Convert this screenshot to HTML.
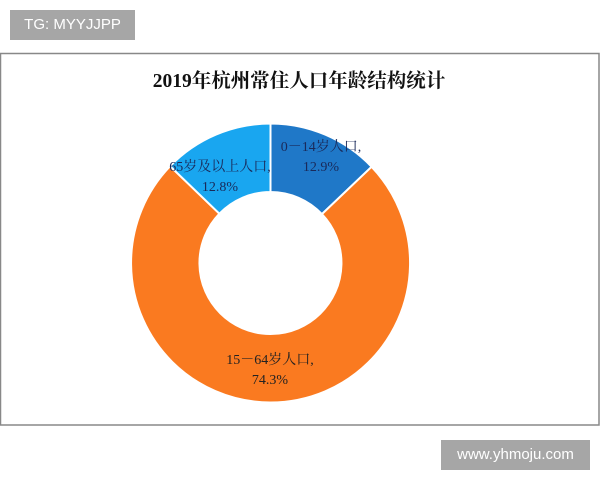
<!DOCTYPE html>
<html><head><meta charset="utf-8"><style>
body{margin:0;width:600px;height:480px;background:#fff;position:relative;overflow:hidden;font-family:"Liberation Sans",sans-serif}
.tag{position:absolute;left:10px;top:10px;width:125px;height:30px;background:#a6a6a6;color:#fff;font-size:15px;line-height:30px;text-align:center}
.url{position:absolute;left:441px;top:440px;width:149px;height:30px;background:#a6a6a6;color:#fff;font-size:15px;line-height:30px;text-align:center}
</style></head><body>
<div class="tag">TG: MYYJJPP</div>
<svg width="600" height="480" style="position:absolute;left:0;top:0">
<rect x="0.5" y="53.5" width="598.5" height="371.5" fill="none" stroke="#888" stroke-width="1.5"/>
<text x="299" y="87" text-anchor="middle" font-family="Liberation Serif,'Noto Serif CJK SC',serif" font-size="19.5" font-weight="bold" fill="#111">2019年杭州常住人口年龄结构统计</text>
<g stroke="#fff" stroke-width="2">
<path d="M270.5,123.5 A139.5,139.5 0 0 1 371.6,166.8 L321.9,214.1 A71,71 0 0 0 270.5,192 Z" fill="#1f78c8"/>
<path d="M371.6,166.8 A139.5,139.5 0 1 1 170.1,166.2 L219.4,213.7 A71,71 0 1 0 321.9,214.1 Z" fill="#fa7a20"/>
<path d="M170.1,166.2 A139.5,139.5 0 0 1 270.5,123.5 L270.5,192 A71,71 0 0 0 219.4,213.7 Z" fill="#19a6f0"/>
</g>
<g font-family="Liberation Serif,'Noto Serif CJK SC',serif" font-size="14" fill="#1a2a5a" text-anchor="middle">
<text x="321" y="151">0－14岁人口,</text>
<text x="321" y="171">12.9%</text>
<text x="220" y="171">65岁及以上人口,</text>
<text x="220" y="191">12.8%</text>
<text x="270" y="364" fill="#222">15－64岁人口,</text>
<text x="270" y="384" fill="#222">74.3%</text>
</g>
</svg>
<div class="url">www.yhmoju.com</div>
</body></html>
